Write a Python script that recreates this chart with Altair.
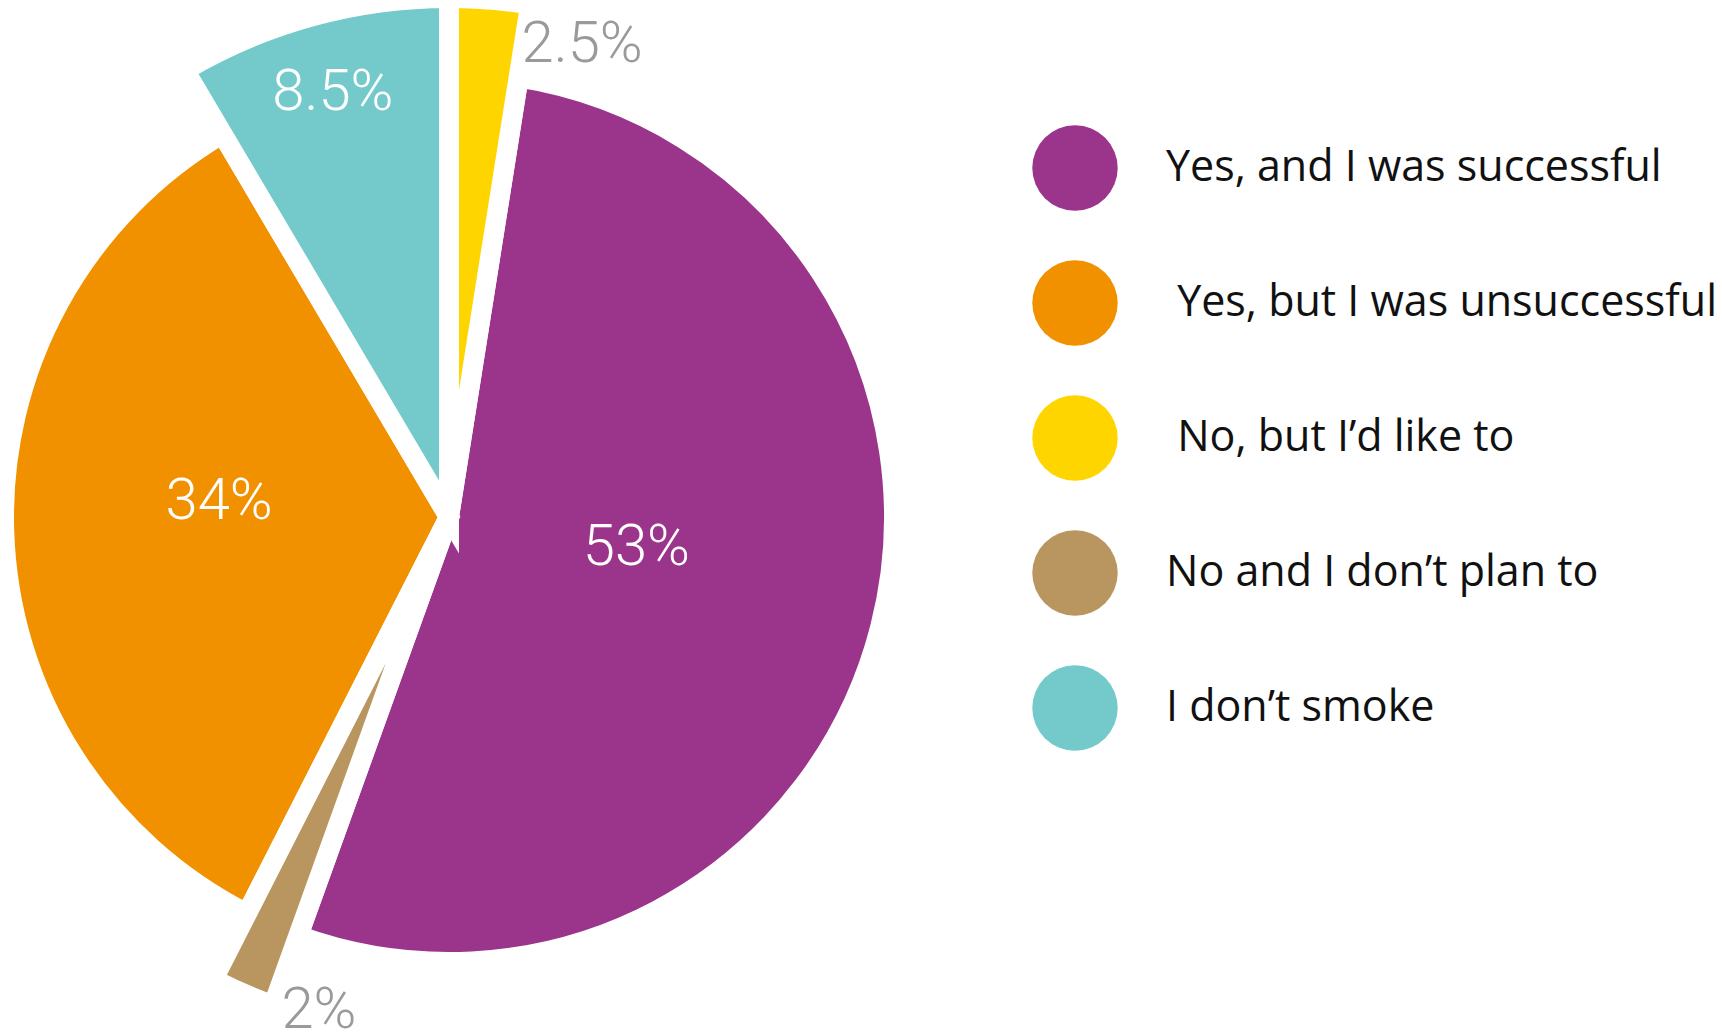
import math
import altair as alt
import pandas as pd

# ---- data (legend order) ----
categories = [
    "Yes, and I was successful",
    "\u200b\u00a0Yes, but I was unsuccessful",
    "\u200b\u00a0No, but I\u2019d like to",
    "No and I don\u2019t plan to",
    "I don\u2019t smoke",
]
values = [53, 34, 2.5, 2, 8.5]
pie_order = [2, 4, 1, 3, 5]          # clockwise position from 12 o'clock
labels = ["53%", "34%", "2.5%", "2%", "8.5%"]
colors = ["#9B348B", "#F29100", "#FFD500", "#B9965F", "#74CACB"]

df = pd.DataFrame({"category": categories, "value": values,
                   "order": pie_order, "label": labels})

CX, CY = 449, 517
theta_scale = alt.Scale(domain=[0, 100], range=[0, 2 * math.pi])

base = alt.Chart(df).transform_window(
    end="sum(value)", sort=[alt.SortField("order")], frame=[None, 0]
).transform_calculate(
    start="datum.end - datum.value",
    mid="datum.end - datum.value / 2",
    r="datum.value < 10 ? 519 : 445",
    lr="datum.value >= 10 ? 212 : (datum.value >= 5 ? 440 : 505)",
)

arcs = base.mark_arc(stroke="white", strokeWidth=20, strokeJoin="miter").encode(
    theta=alt.Theta("start:Q", scale=theta_scale),
    theta2="end:Q",
    radius=alt.Radius("r:Q", scale=None),
    x=alt.value(CX),
    y=alt.value(CY),
    color=alt.Color(
        "category:N",
        scale=alt.Scale(domain=categories, range=colors),
        sort=categories,
        legend=alt.Legend(
            title=None, orient="none", legendX=1032, legendY=125,
            symbolType="circle", symbolSize=7300, symbolStrokeWidth=0,
            symbolOpacity=1, rowPadding=49, labelOffset=48,
            labelFont="Open Sans", labelFontSize=43, labelColor="#111111",
            labelLimit=0, padding=0, offset=0,
        ),
    ),
)

def label_layer(cond, color, **kw):
    return base.transform_filter(cond).mark_text(
        font="Roboto", fontWeight=300, fontSize=58, color=color,
        baseline="middle", **kw,
    ).encode(
        theta=alt.Theta("mid:Q", scale=theta_scale),
        radius=alt.Radius("lr:Q", scale=None),
        x=alt.value(CX), y=alt.value(CY),
        text="label:N",
    )

big_labels = label_layer("datum.value >= 10", "white", align="center", dx=-18, dy=-22)
mid_labels = label_layer("datum.value >= 5 && datum.value < 10", "white", align="center")
out_labels = label_layer("datum.value < 5", "#9A9A9A", align="left", dx=33, dy=31)

chart = alt.layer(arcs, big_labels, mid_labels, out_labels).properties(
    width=1722, height=1032, padding=0, autosize=alt.AutoSizeParams(type="none"),
    background="white",
).configure_view(stroke=None)

chart.save("out.html", embed_options={"renderer": "svg", "actions": False})
